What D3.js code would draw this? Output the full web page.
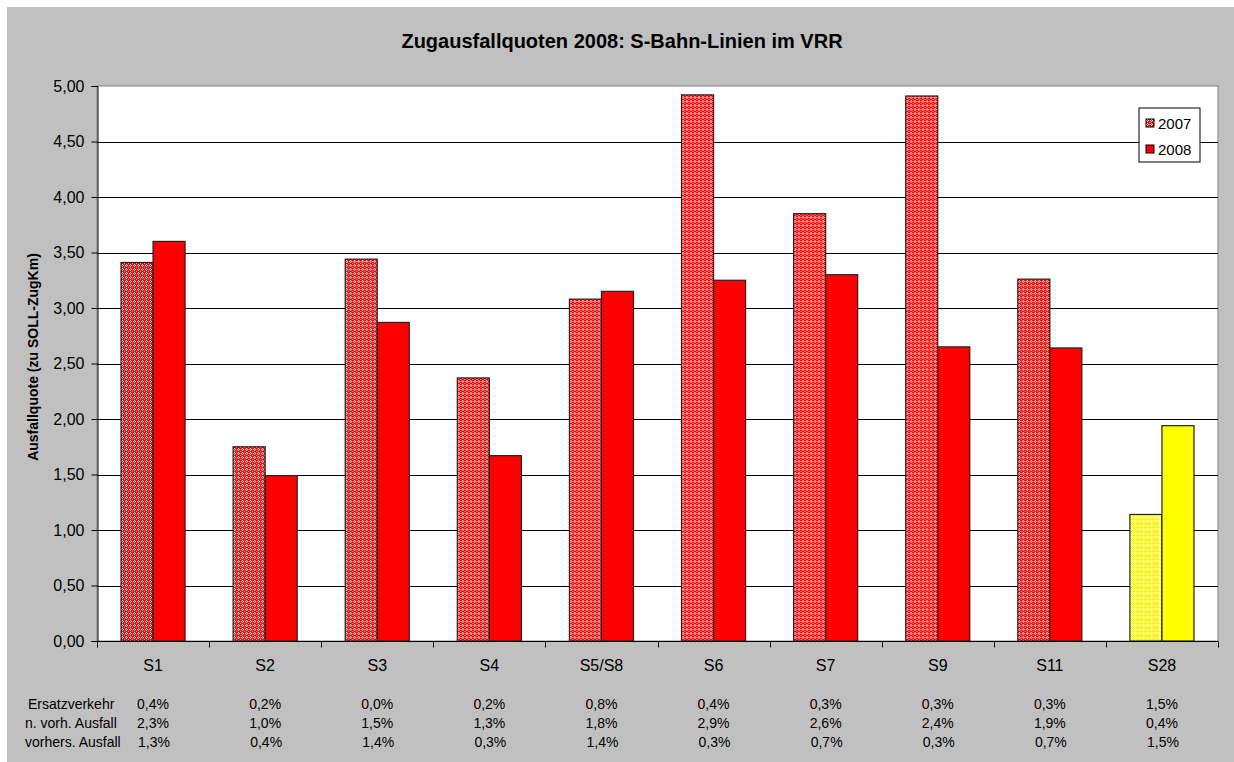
<!DOCTYPE html>
<html>
<head>
<meta charset="utf-8">
<script src="https://cdn.jsdelivr.net/npm/d3@7"></script>
<style>
  body { margin: 0; background: #fff; }
  text { font-family: "Liberation Sans", Arial, sans-serif; fill: #000; }
</style>
</head>
<body>
<div id="container"></div>
<script>
    // Data
    const categories = ["S1", "S2", "S3", "S4", "S5/S8", "S6", "S7", "S9", "S11", "S28"];
    const values2007 = [3.41, 1.75, 3.44, 2.37, 3.08, 4.92, 3.85, 4.91, 3.26, 1.14];
    const values2008 = [3.60, 1.49, 2.87, 1.67, 3.15, 3.25, 3.30, 2.65, 2.64, 1.94];
    const seriesNames = ["2007", "2008"];
    const yTicks = [0, 0.5, 1, 1.5, 2, 2.5, 3, 3.5, 4, 4.5, 5];

    // Table below the chart
    const rowLabels = ["Ersatzverkehr", "n. vorh. Ausfall", "vorhers. Ausfall"];
    const ersatzverkehr = ["0,4%", "0,2%", "0,0%", "0,2%", "0,8%", "0,4%", "0,3%", "0,3%", "0,3%", "1,5%"];
    const nVorhAusfall = ["2,3%", "1,0%", "1,5%", "1,3%", "1,8%", "2,9%", "2,6%", "2,4%", "1,9%", "0,4%"];
    const vorhersAusfall = ["1,3%", "0,4%", "1,4%", "0,3%", "1,4%", "0,3%", "0,7%", "0,3%", "0,7%", "1,5%"];

    const width = 1234, height = 762;
    const plot = { left: 97, top: 86, right: 1218, bottom: 641 };

    const svg = d3.select("#container").append("svg")
        .attr("width", width)
        .attr("height", height);

    // Patterns for the 2007 bars
    const defs = svg.append("defs");
    function makePattern(id, color) {
        const p = defs.append("pattern")
            .attr("id", id)
            .attr("width", 4)
            .attr("height", 4)
            .attr("patternUnits", "userSpaceOnUse");
        p.append("rect").attr("width", 4).attr("height", 4).attr("fill", color);
        p.append("rect").attr("x", 1).attr("y", 0).attr("width", 1).attr("height", 1).attr("fill", "#fff");
        p.append("rect").attr("x", 0).attr("y", 1).attr("width", 1).attr("height", 1).attr("fill", "#fff");
        p.append("rect").attr("x", 2).attr("y", 1).attr("width", 1).attr("height", 1).attr("fill", "#fff");
        p.append("rect").attr("x", 1).attr("y", 2).attr("width", 1).attr("height", 1).attr("fill", "#fff");
        p.append("rect").attr("x", 3).attr("y", 3).attr("width", 1).attr("height", 1).attr("fill", "#fbb");
    }
    makePattern("redPat", "#ff0000");
    makePattern("yellowPat", "#ffff00");

    // Chart background
    svg.append("rect")
        .attr("x", 7).attr("y", 7)
        .attr("width", width - 7).attr("height", height - 7)
        .attr("fill", "#c0c0c0");

    svg.append("rect")
        .attr("x", plot.left).attr("y", plot.top)
        .attr("width", plot.right - plot.left).attr("height", plot.bottom - plot.top)
        .attr("fill", "#fff")
        .attr("stroke", "#808080");

    // Title
    svg.append("text")
        .attr("x", 622)
        .attr("y", 48)
        .attr("text-anchor", "middle")
        .attr("font-size", "20px")
        .attr("font-weight", "bold")
        .text("Zugausfallquoten 2008: S-Bahn-Linien im VRR");

    // Scales
    const x = d3.scaleBand().domain(categories).range([plot.left, plot.right]);
    const x1 = d3.scaleBand().domain(seriesNames).range([0, x.bandwidth()]).paddingOuter(0.75).paddingInner(0);
    const y = d3.scaleLinear().domain([0, 5]).range([plot.bottom, plot.top]);

    // Gridlines
    svg.append("g")
        .selectAll("line")
        .data(yTicks.filter(d => d > 0 && d < 5))
        .enter()
        .append("line")
        .attr("x1", plot.left).attr("x2", plot.right)
        .attr("y1", d => Math.round(y(d)) + 0.5).attr("y2", d => Math.round(y(d)) + 0.5)
        .attr("stroke", "#000")
        .attr("stroke-width", 1);

    // Y axis
    const yAxis = svg.append("g")
        .attr("transform", "translate(" + (plot.left + 0.5) + ",0)")
        .call(d3.axisLeft(y)
                .tickValues(yTicks)
                .tickSize(6)
                .tickFormat(d => d3.format(".2f")(d).replace(".", ",")));
    yAxis.select(".domain").attr("stroke", "#000");
    yAxis.selectAll(".tick line").attr("stroke", "#000");
    yAxis.selectAll(".tick text")
        .attr("font-size", "16px")
        .attr("font-family", "Liberation Sans, Arial, sans-serif")
        .attr("fill", "#000")
        .attr("x", -13);

    // Y axis title
    svg.append("text")
        .attr("transform", "translate(38,357) rotate(-90)")
        .attr("text-anchor", "middle")
        .attr("font-size", "14px")
        .attr("font-weight", "bold")
        .text("Ausfallquote (zu SOLL-ZugKm)");

    // Bars
    const groups = svg.append("g")
        .selectAll("g")
        .data(categories)
        .enter()
        .append("g")
        .attr("transform", d => "translate(" + x(d) + ",0)");

    groups.append("rect")
        .attr("x", x1("2007"))
        .attr("y", (d, i) => y(values2007[i]))
        .attr("width", x1.bandwidth())
        .attr("height", (d, i) => plot.bottom - y(values2007[i]))
        .attr("fill", d => d === "S28" ? "url(#yellowPat)" : "url(#redPat)")
        .attr("stroke", "#222")
        .attr("stroke-width", 1.2);

    groups.append("rect")
        .attr("x", x1("2008"))
        .attr("y", (d, i) => y(values2008[i]))
        .attr("width", x1.bandwidth())
        .attr("height", (d, i) => plot.bottom - y(values2008[i]))
        .attr("fill", d => d === "S28" ? "#ffff00" : "#ff0000")
        .attr("stroke", "#222")
        .attr("stroke-width", 1.2);

    // X axis
    const xAxis = svg.append("g")
        .attr("transform", "translate(0," + (plot.bottom + 0.5) + ")");
    xAxis.append("line")
        .attr("x1", plot.left).attr("x2", plot.right)
        .attr("stroke", "#000");
    xAxis.selectAll(".tk")
        .data(categories.concat(["end"]))
        .enter()
        .append("line")
        .attr("x1", (d, i) => Math.round(plot.left + i * x.step()) + 0.5)
        .attr("x2", (d, i) => Math.round(plot.left + i * x.step()) + 0.5)
        .attr("y1", 0).attr("y2", 6)
        .attr("stroke", "#000");
    xAxis.selectAll(".lbl")
        .data(categories)
        .enter()
        .append("text")
        .attr("x", d => x(d) + x.bandwidth() / 2)
        .attr("y", 29)
        .attr("text-anchor", "middle")
        .attr("font-size", "16px")
        .text(d => d);

    // Data table
    const tableRows = [ersatzverkehr, nVorhAusfall, vorhersAusfall];
    const rowY = [709, 728, 747];
    const rowLabelX = [28, 25, 25];
    const rowShift = [0, 0, 1];
    tableRows.forEach(function(row, r) {
        svg.append("text")
            .attr("x", rowLabelX[r])
            .attr("y", rowY[r])
            .attr("font-size", "14px")
            .text(rowLabels[r]);
        svg.append("g")
            .selectAll("text")
            .data(row)
            .enter()
            .append("text")
            .attr("x", (d, i) => x(categories[i]) + x.bandwidth() / 2 + rowShift[r])
            .attr("y", rowY[r])
            .attr("text-anchor", "middle")
            .attr("font-size", "14px")
            .text(d => d);
    });

    // Legend
    const legend = svg.append("g").attr("transform", "translate(1139,108)");
    legend.append("rect")
        .attr("width", 61).attr("height", 54)
        .attr("fill", "#fff")
        .attr("stroke", "#000");
    const legendItems = legend.selectAll(".item")
        .data(seriesNames)
        .enter()
        .append("g")
        .attr("transform", (d, i) => "translate(7," + (11 + i * 26) + ")");
    legendItems.append("rect")
        .attr("width", 8).attr("height", 8)
        .attr("fill", d => d === "2007" ? "url(#redPat)" : "#ff0000")
        .attr("stroke", "#000");
    legendItems.append("text")
        .attr("x", 12)
        .attr("y", 10)
        .attr("font-size", "15px")
        .text(d => d);
</script>
</body>
</html>
